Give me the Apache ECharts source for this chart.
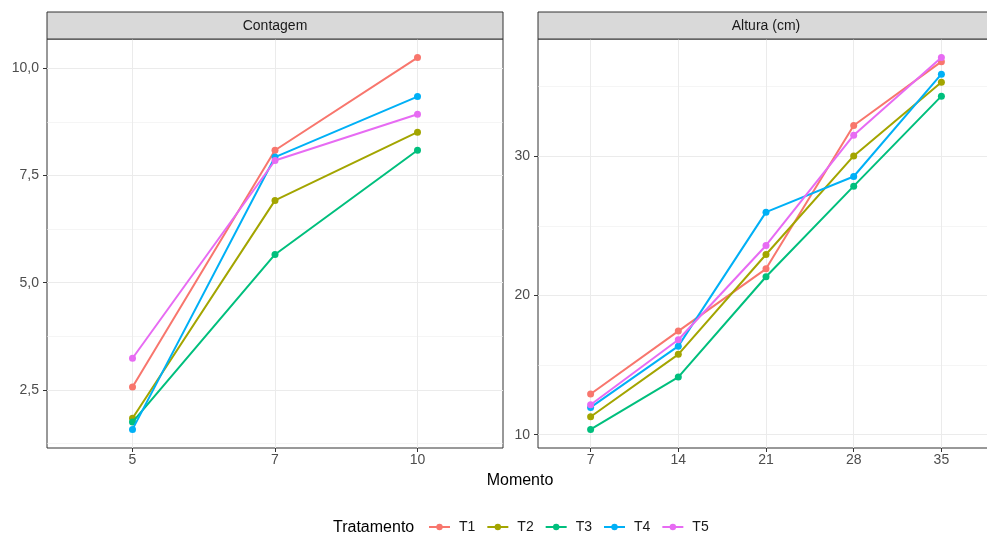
<!DOCTYPE html>
<html><head><meta charset="utf-8">
<script src="https://cdn.jsdelivr.net/npm/echarts@6/dist/echarts.min.js"></script>
<style>html,body{margin:0;padding:0;background:#fff}#c{width:987px;height:537px}</style>
</head><body><div id="c"></div>
<script>
// ---- data ----
const tratamentos = ['T1', 'T2', 'T3', 'T4', 'T5'];
const cores = ['#F8766D', '#A3A500', '#00BF7D', '#00B0F6', '#E76BF3'];

const contagemMomento = ['5', '7', '10'];
const contagemT1 = [2.57, 8.09, 10.25];
const contagemT2 = [1.84, 6.92, 8.51];
const contagemT3 = [1.75, 5.66, 8.09];
const contagemT4 = [1.58, 7.93, 9.34];
const contagemT5 = [3.24, 7.85, 8.93];

const alturaMomento = ['7', '14', '21', '28', '35'];
const alturaT1 = [12.92, 17.44, 21.91, 32.20, 36.79];
const alturaT2 = [11.29, 15.77, 22.94, 30.02, 35.31];
const alturaT3 = [10.38, 14.14, 21.34, 27.85, 34.31];
const alturaT4 = [11.96, 16.36, 25.98, 28.54, 35.89];
const alturaT5 = [12.15, 16.82, 23.59, 31.51, 37.08];

const contagemTicks = [2.5, 5, 7.5, 10];
const contagemMinor = [1.25, 3.75, 6.25, 8.75];
const alturaTicks = [10, 20, 30];
const alturaMinor = [15, 25, 35];

// ---- chart ----
const contagem = [contagemT1, contagemT2, contagemT3, contagemT4, contagemT5];
const altura = [alturaT1, alturaT2, alturaT3, alturaT4, alturaT5];
const FONT = '"Liberation Sans", Arial, Helvetica, sans-serif';

function expand(arrs) {
  const all = [].concat(...arrs);
  const lo = Math.min(...all), hi = Math.max(...all), r = hi - lo;
  return [lo - 0.05 * r, hi + 0.05 * r];
}
const cExt = expand(contagem);
const aExt = expand(altura);

function xAxis(gridIndex, cats) {
  const pos = cats.map((c, i) => i + 1);
  return {
    type: 'value', gridIndex, min: 0.4, max: cats.length + 0.6,
    axisLine: { show: false },
    axisTick: { show: true, length: 4, lineStyle: { color: '#333333', width: 1 }, customValues: pos },
    axisLabel: { customValues: pos, formatter: v => cats[Math.round(v) - 1], color: '#4D4D4D',
      fontSize: 14, margin: 5, fontFamily: FONT },
    splitLine: { show: true, lineStyle: { color: '#EBEBEB', width: 1 } }
  };
}
function yMajor(gridIndex, ext, ticks, fmt) {
  return {
    type: 'value', gridIndex, min: ext[0], max: ext[1], position: 'left',
    axisLine: { show: false },
    axisTick: { show: true, length: 4, lineStyle: { color: '#333333', width: 1 }, customValues: ticks },
    axisLabel: { customValues: ticks, formatter: fmt, color: '#4D4D4D', fontSize: 14, margin: 8, fontFamily: FONT },
    splitLine: { show: true, lineStyle: { color: '#EBEBEB', width: 1 } }
  };
}
function yMinor(gridIndex, ext, ticks) {
  return {
    type: 'value', gridIndex, min: ext[0], max: ext[1], position: 'left',
    axisLine: { show: false },
    axisTick: { show: false, customValues: ticks },
    axisLabel: { show: false, customValues: ticks },
    splitLine: { show: true, lineStyle: { color: '#EFEFEF', width: 0.6 } }
  };
}

const series = [];
tratamentos.forEach((t, i) => {
  const base = {
    type: 'line', name: t, symbol: 'circle', symbolSize: 7, color: cores[i],
    lineStyle: { width: 2, color: cores[i] }, itemStyle: { color: cores[i] },
    emphasis: { disabled: true }, animation: false, z: 3 + i
  };
  series.push(Object.assign({}, base, { xAxisIndex: 0, yAxisIndex: 0,
    data: contagem[i].map((v, j) => [j + 1, v]) }));
  series.push(Object.assign({}, base, { xAxisIndex: 1, yAxisIndex: 2,
    data: altura[i].map((v, j) => [j + 1, v]) }));
});

function strip(x, w, label) {
  return [
    { type: 'rect', shape: { x: x, y: 12, width: w, height: 27 },
      style: { fill: '#D9D9D9', stroke: '#333333', lineWidth: 1 }, z: 10 },
    { type: 'text', x: x + w / 2, y: 26, z: 11,
      style: { text: label, fill: '#1A1A1A', font: '14px ' + FONT, textAlign: 'center', textVerticalAlign: 'middle' } }
  ];
}

const gridCommon = { top: 39, width: 456, height: 409, show: true, borderColor: '#333333', borderWidth: 1,
  backgroundColor: '#ffffff', containLabel: false, outerBoundsMode: 'none' };

const option = {
  animation: false,
  backgroundColor: '#ffffff',
  grid: [
    Object.assign({ left: 47 }, gridCommon),
    Object.assign({ left: 538 }, gridCommon)
  ],
  xAxis: [xAxis(0, contagemMomento), xAxis(1, alturaMomento)],
  yAxis: [
    yMajor(0, cExt, contagemTicks, v => v.toFixed(1).replace('.', ',')),
    yMinor(0, cExt, contagemMinor),
    yMajor(1, aExt, alturaTicks, v => String(Math.round(v))),
    yMinor(1, aExt, alturaMinor)
  ],
  legend: {
    data: tratamentos, left: 423, top: 515, itemWidth: 21, itemHeight: 8, itemGap: 11,
    textStyle: { fontSize: 14, color: '#1A1A1A', fontFamily: FONT, padding: [0, 0, 0, 4] },
    selectedMode: false
  },
  graphic: [].concat(
    strip(47, 456, 'Contagem'),
    strip(538, 456, 'Altura (cm)'),
    [
      { type: 'text', x: 520, y: 481, style: { text: 'Momento', fill: '#000000', font: '16px ' + FONT, textAlign: 'center', textVerticalAlign: 'middle' } },
      { type: 'text', x: 333, y: 528, style: { text: 'Tratamento', fill: '#000000', font: '16px ' + FONT, textAlign: 'left', textVerticalAlign: 'middle' } }
    ]
  ),
  series
};
const chart = echarts.init(document.getElementById('c'));
chart.setOption(option);
</script></body></html>
